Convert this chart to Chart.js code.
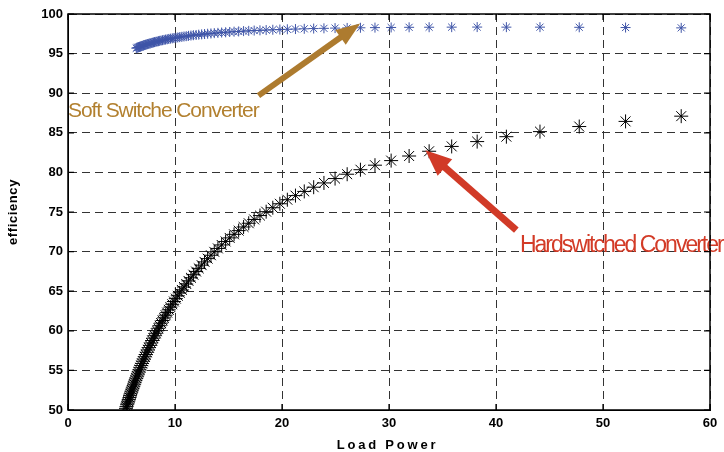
<!DOCTYPE html>
<html><head><meta charset="utf-8">
<script src="https://cdn.jsdelivr.net/npm/chart.js@4.4.1/dist/chart.umd.min.js"></script>
<style>html,body{margin:0;padding:0;background:#fff;}#wrap{width:724px;height:452px;}</style>
</head><body><div id="wrap"><canvas id="c" width="724" height="452"></canvas></div>
<script>
// Load power (x) shared by both measurement series
const loadPower = [57.31,52.11,47.78,44.11,40.97,38.24,35.86,33.75,31.88,30.20,
28.69,27.33,26.09,24.96,23.92,22.96,22.08,21.26,20.50,19.80,
19.14,18.52,17.94,17.40,16.89,16.41,15.95,15.52,15.11,14.73,
14.36,14.01,13.67,13.36,13.05,12.76,12.49,12.22,11.97,11.72,
11.49,11.26,11.05,10.84,10.64,10.44,10.26,10.08,9.90,9.74,
9.57,9.42,9.27,9.12,8.98,8.84,8.70,8.57,8.45,8.33,
8.21,8.09,7.98,7.87,7.76,7.66,7.56,7.46,7.37,7.27,
7.18,7.09,7.01,6.92,6.84,6.76,6.68,6.60,6.53,6.46,
6.38,6.31,6.24,6.18,6.11,6.05,5.98,5.92,5.86,5.80,
5.75,5.69,5.63,5.58,5.52,5.47,5.42];
// Hard-switched converter efficiency
const hardEff = [87.10,86.44,85.79,85.15,84.51,83.89,83.28,82.67,82.07,81.49,
80.91,80.34,79.77,79.22,78.67,78.13,77.60,77.07,76.55,76.04,
75.54,75.04,74.55,74.06,73.58,73.11,72.65,72.18,71.73,71.28,
70.84,70.40,69.97,69.54,69.11,68.70,68.29,67.88,67.48,67.08,
66.69,66.30,65.91,65.53,65.16,64.79,64.42,64.06,63.70,63.35,
62.99,62.65,62.30,61.97,61.63,61.30,60.97,60.64,60.32,60.00,
59.69,59.38,59.07,58.77,58.46,58.16,57.87,57.58,57.29,57.00,
56.72,56.43,56.16,55.88,55.61,55.34,55.07,54.80,54.54,54.28,
54.02,53.77,53.52,53.26,53.02,52.77,52.53,52.29,52.05,51.81,
51.57,51.34,51.11,50.88,50.66,50.43,50.21];
// Soft-switch converter efficiency (first 81 load points)
const softEff = [98.25,98.29,98.32,98.34,98.34,98.35,98.34,98.33,98.32,98.30,
98.28,98.26,98.24,98.22,98.19,98.16,98.13,98.10,98.07,98.04,
98.01,97.97,97.94,97.91,97.87,97.84,97.80,97.77,97.73,97.69,
97.66,97.62,97.58,97.54,97.51,97.47,97.43,97.39,97.35,97.32,
97.28,97.24,97.20,97.16,97.12,97.08,97.04,97.00,96.96,96.93,
96.89,96.85,96.81,96.77,96.73,96.69,96.65,96.61,96.57,96.53,
96.49,96.45,96.41,96.37,96.33,96.29,96.25,96.21,96.17,96.13,
96.09,96.05,96.01,95.97,95.93,95.89,95.85,95.81,95.77,95.73,
95.69];
const xTicks = [0,10,20,30,40,50,60];
const yTicks = [50,55,60,65,70,75,80,85,90,95,100];
const xTitle = 'Load Power';
const yTitle = 'efficiency';
const softLabel = 'Soft Switche Converter';
const hardLabel = 'Hardswitched Converter';

const softArrow = {from:[17.8,89.7], to:[27.3,98.8], text:[0.0,87.03]};
const hardArrow = {from:[41.9,72.7], to:[33.4,82.8], text:[42.24,70.0]};

function drawArrow(ctx,x1,y1,x2,y2,color,w,hl,hw){
  const a=Math.atan2(y2-y1,x2-x1), c=Math.cos(a), s=Math.sin(a);
  const bx=x2-hl*c, by=y2-hl*s;
  ctx.save();
  ctx.strokeStyle=color; ctx.fillStyle=color; ctx.lineWidth=w; ctx.lineCap='butt';
  ctx.beginPath(); ctx.moveTo(x1,y1); ctx.lineTo(bx+2*c,by+2*s); ctx.stroke();
  ctx.beginPath(); ctx.moveTo(x2,y2);
  ctx.lineTo(bx-hw/2*s, by+hw/2*c);
  ctx.lineTo(bx+hw/2*s, by-hw/2*c);
  ctx.closePath(); ctx.fill();
  ctx.restore();
}

const annot = {
  id:'annot',
  afterDatasetsDraw(chart){
    const {ctx, scales:{x,y}} = chart;
    drawArrow(ctx, x.getPixelForValue(softArrow.from[0]), y.getPixelForValue(softArrow.from[1]),
      x.getPixelForValue(softArrow.to[0]), y.getPixelForValue(softArrow.to[1]), '#ad7b2f', 6, 24, 18);
    drawArrow(ctx, x.getPixelForValue(hardArrow.from[0]), y.getPixelForValue(hardArrow.from[1]),
      x.getPixelForValue(hardArrow.to[0]), y.getPixelForValue(hardArrow.to[1]), '#d13a27', 7, 26, 22);
    ctx.save();
    ctx.textBaseline='alphabetic'; ctx.textAlign='left';
    ctx.font='21px "Liberation Sans", Arial, sans-serif';
    ctx.letterSpacing='-1.1px';
    ctx.fillStyle='#b2802f';
    ctx.fillText(softLabel, x.getPixelForValue(softArrow.text[0]), y.getPixelForValue(softArrow.text[1]));
    ctx.font='23px "Liberation Sans", Arial, sans-serif';
    ctx.letterSpacing='-2px';
    ctx.fillStyle='#d33b27';
    ctx.fillText(hardLabel, x.getPixelForValue(hardArrow.text[0]), y.getPixelForValue(hardArrow.text[1]));
    ctx.restore();
  },
  afterDraw(chart){
    const {ctx, chartArea:a, scales:{x,y}} = chart;
    ctx.save();
    ctx.strokeStyle='#000'; ctx.lineWidth=1.5;
    ctx.strokeRect(a.left, a.top, a.right-a.left, a.bottom-a.top);
    ctx.lineWidth=1.2;
    ctx.beginPath();
    xTicks.forEach(v=>{const p=x.getPixelForValue(v);
      ctx.moveTo(p,a.bottom); ctx.lineTo(p,a.bottom-6);
      ctx.moveTo(p,a.top); ctx.lineTo(p,a.top+6);});
    yTicks.forEach(v=>{const p=y.getPixelForValue(v);
      ctx.moveTo(a.left,p); ctx.lineTo(a.left+6,p);
      ctx.moveTo(a.right,p); ctx.lineTo(a.right-6,p);});
    ctx.stroke();
    // axis titles
    ctx.fillStyle='#000';
    ctx.font='bold 13px "Liberation Sans", Arial, sans-serif';
    ctx.textAlign='center'; ctx.textBaseline='alphabetic';
    ctx.letterSpacing='2.8px';
    ctx.fillText(xTitle, (a.left+a.right)/2 - 1.5, 448.5);
    ctx.letterSpacing='0.6px';
    ctx.translate(13.5,(a.top+a.bottom)/2);
    ctx.rotate(-Math.PI/2);
    ctx.textBaseline='middle';
    ctx.fillText(yTitle, 0, 0);
    ctx.restore();
  }
};

const tickFont = {family:'"Liberation Sans", Arial, sans-serif', size:13, weight:'bold'};
new Chart(document.getElementById('c'), {
  type:'scatter',
  data:{datasets:[
    {label:'Hard', data: hardEff.map((v,i)=>({x:loadPower[i], y:v})),
     pointStyle:'star', pointRadius:7, borderColor:'#000', backgroundColor:'#000', borderWidth:1, showLine:false},
    {label:'Soft', data: softEff.map((v,i)=>({x:loadPower[i], y:v})),
     pointStyle:'star', pointRadius:5, borderColor:'#3f55a8', backgroundColor:'#3f55a8', borderWidth:1, showLine:false}
  ]},
  options:{
    responsive:false, animation:false,
    layout:{padding:{left:0,right:14,top:14,bottom:0}},
    plugins:{legend:{display:false}, tooltip:{enabled:false}},
    scales:{
      x:{type:'linear', min:0, max:60,
        afterBuildTicks:s=>{s.ticks=xTicks.map(v=>({value:v}));},
        ticks:{font:tickFont, color:'#000', padding:6, maxRotation:0},
        grid:{color:'#333', drawTicks:false, lineWidth:1},
        border:{display:true, color:'#000', dash:[8,5]},
        afterFit:s=>{s.height=42;}},
      y:{type:'linear', min:50, max:100,
        afterBuildTicks:s=>{s.ticks=yTicks.map(v=>({value:v}));},
        ticks:{font:tickFont, color:'#000', padding:5},
        grid:{color:'#333', drawTicks:false, lineWidth:1},
        border:{display:true, color:'#000', dash:[8,5]},
        afterFit:s=>{s.width=68;}}
    }
  },
  plugins:[annot]
});
</script></body></html>
